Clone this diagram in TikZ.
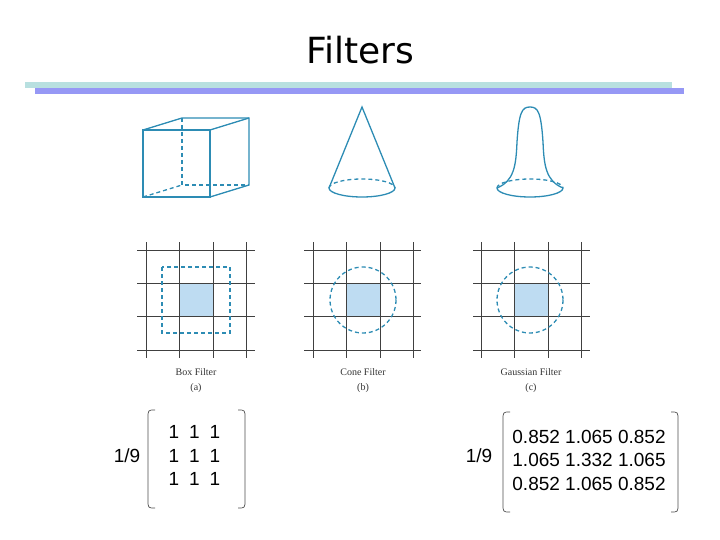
\documentclass[tikz,border=0pt]{standalone}
\usepackage{fontspec}
\setmainfont{Liberation Sans}
\newfontfamily\titlefont{DejaVu Sans}
\newfontfamily\capfont{Liberation Serif}
\usetikzlibrary{shapes,arrows}
\definecolor{filterblue}{RGB}{45,140,180}
\definecolor{cellblue}{RGB}{190,220,242}
\definecolor{barteal}{RGB}{184,224,224}
\definecolor{barblue}{RGB}{150,152,245}
\tikzset{
  shape3d/.style={draw=filterblue, line width=1.3pt},
  hidden/.style={shape3d, dash pattern=on 4pt off 3pt},
  gridline/.style={draw=black!75, line width=0.7pt},
  caption/.style={font=\capfont\fontsize{10}{11}\selectfont, text=black!80},
  entry/.style={font=\fontsize{19}{21}\selectfont},
  bracket/.style={draw=black!70, line width=0.7pt}
}
\begin{document}
\begin{tikzpicture}[x=1pt,y=-1pt]
\useasboundingbox (0,0) rectangle (720,540);
% title and bars
\node[font=\titlefont\fontsize{36}{40}\selectfont] (title) at (360,50) {Filters};
\fill[barteal] (25,82) rectangle (672,88);
\fill[barblue] (35,88) rectangle (684,94);

% box
\draw[shape3d] (143,130) rectangle (210,197);
\draw[shape3d] (143,130) -- (182,118) -- (249,118) -- (249,185) -- (210,197);
\draw[shape3d] (210,130) -- (249,118);
\draw[hidden] (182,118) -- (182,185) -- (249,185);
\draw[hidden] (143,197) -- (182,185);

% cone
\draw[shape3d] (329,188) -- (362,107) -- (395,188);
\draw[hidden] (329,188) arc[start angle=180, end angle=360, x radius=33, y radius=9];
\draw[shape3d] (329,188) arc[start angle=180, end angle=0, x radius=33, y radius=9];

% gaussian
\draw[shape3d] (497,188) .. controls (514,181) and (516,166) .. (517,142)
  .. controls (519,112) and (522,107) .. (530,107)
  .. controls (538,107) and (541,112) .. (543,142)
  .. controls (544,166) and (546,181) .. (563,188);
\draw[hidden] (497,188) arc[start angle=180, end angle=360, x radius=33, y radius=9];
\draw[shape3d] (497,188) arc[start angle=180, end angle=0, x radius=33, y radius=9];

% grids
\foreach \gx/\gl/\gr/\lab/\sub [count=\i] in {146/137/255/Box Filter/a, 313/304/421/Cone Filter/b, 481/473/590/Gaussian Filter/c}{
  \fill[cellblue] (\gx+33,283) rectangle (\gx+67,317);
  \foreach \k in {0,1,2,3}{
    \draw[gridline] (\gx+\k*33.6,242) -- (\gx+\k*33.6,358);
    \draw[gridline] (\gl,250+\k*33.3) -- (\gr,250+\k*33.3);
  }
  \node[caption] (cap\i) at (\gx+50,372) {\lab};
  \node[caption] (sub\i) at (\gx+50,388) {(\sub)};
}
\draw[hidden] (162,267) rectangle (230,333);
\draw[hidden] (363,300) circle[radius=33];
\draw[hidden] (530,300) circle[radius=33];

% box matrix
\node[entry] (scaleA) at (127,456) {1/9};
\foreach \r in {0,1,2}
  \foreach \c in {0,1,2}
    \node[entry] (a\r\c) at (174+\c*20.5,432+\r*23.5) {1};
\draw[bracket] (155,410) .. controls (148,410) .. (148,418) -- (148,500) .. controls (148,508) .. (155,508);
\draw[bracket] (238,410) .. controls (245,410) .. (245,418) -- (245,500) .. controls (245,508) .. (238,508);

% gaussian matrix
\node[entry] (scaleB) at (479,456) {1/9};
\foreach \row [count=\r] in {{0.852 1.065 0.852},{1.065 1.332 1.065},{0.852 1.065 0.852}}
  \node[entry] (g\r) at (589,413+\r*23.5) {\row};
\draw[bracket] (510,412) .. controls (503,412) .. (503,420) -- (503,504) .. controls (503,512) .. (510,512);
\draw[bracket] (671,412) .. controls (678,412) .. (678,420) -- (678,504) .. controls (678,512) .. (671,512);
\end{tikzpicture}
\end{document}
